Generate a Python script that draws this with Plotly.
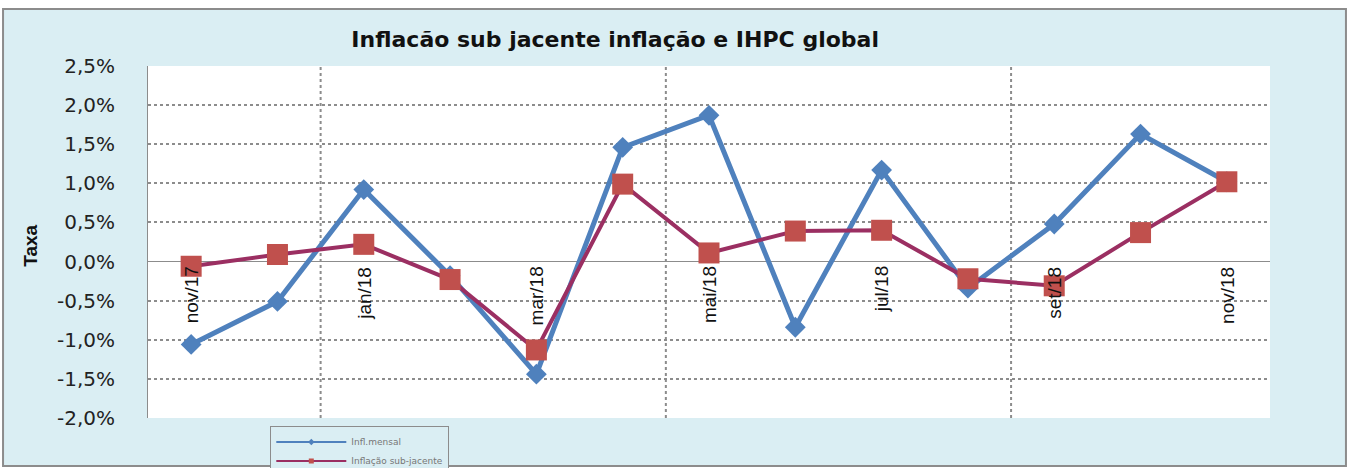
import plotly.graph_objects as go

months = ["nov/17", "dez/17", "jan/18", "fev/18", "mar/18", "abr/18", "mai/18",
          "jun/18", "jul/18", "ago/18", "set/18", "out/18", "nov/18"]
shown_labels = ["nov/17", "jan/18", "mar/18", "mai/18", "jul/18", "set/18", "nov/18"]
infl_mensal = [-1.06, -0.51, 0.92, -0.18, -1.44, 1.46, 1.87, -0.84, 1.17, -0.34, 0.48, 1.63, 1.02]
infl_sub = [-0.06, 0.09, 0.22, -0.23, -1.13, 0.99, 0.11, 0.39, 0.40, -0.22, -0.31, 0.37, 1.02]
y_ticks = [2.5, 2.0, 1.5, 1.0, 0.5, 0.0, -0.5, -1.0, -1.5, -2.0]
y_labels = ["2,5%", "2,0%", "1,5%", "1,0%", "0,5%", "0,0%", "-0,5%", "-1,0%", "-1,5%", "-2,0%"]
vgrid_pos = [1.5, 5.5, 9.5]

BLUE = "#4F81BD"
RED_M = "#C0504D"
RED_L = "#9B2F62"
BG = "#DAEEF3"

fig = go.Figure()
fig.add_trace(go.Scatter(x=months, y=infl_mensal, mode="lines+markers",
                         line=dict(color=BLUE, width=5),
                         marker=dict(symbol="diamond", size=16, color=BLUE),
                         showlegend=False))
fig.add_trace(go.Scatter(x=months, y=infl_sub, mode="lines+markers",
                         line=dict(color=RED_L, width=4),
                         marker=dict(symbol="square", size=21, color=RED_M),
                         showlegend=False))
# legend entries
fig.add_trace(go.Scatter(x=[None], y=[None], mode="lines+markers", name="Infl.mensal",
                         line=dict(color=BLUE, width=2), marker=dict(symbol="diamond", size=5, color=BLUE)))
fig.add_trace(go.Scatter(x=[None], y=[None], mode="lines+markers", name="Inflação sub-jacente",
                         line=dict(color=RED_L, width=2), marker=dict(symbol="square", size=5, color=RED_M)))

shapes = [dict(type="rect", xref="paper", yref="paper", x0=-0.1292, x1=1.0677, y0=-0.1364, y1=1.162,
               fillcolor=BG, line=dict(color="#8C8C8C", width=2), layer="below"),
          dict(type="rect", xref="paper", yref="paper", x0=0, x1=1, y0=0, y1=1,
               fillcolor="white", line=dict(width=0), layer="below")]
for v in vgrid_pos:
    shapes.append(dict(type="line", xref="x", yref="paper", x0=v, x1=v, y0=0, y1=1,
                       line=dict(color="#8C8C8C", width=2, dash="dot"), layer="below"))

annotations = []
for lab in shown_labels:
    annotations.append(dict(x=lab, y=0, xref="x", yref="y", text=lab, showarrow=False,
                            textangle=-90, xanchor="center", yanchor="top", yshift=-3,
                            font=dict(family="Liberation Sans", size=19, color="#111111")))
annotations.append(dict(x=-0.105, y=0.49, xref="paper", yref="paper", text="<b>Taxa</b>",
                        showarrow=False, textangle=-90, xanchor="center", yanchor="middle",
                        font=dict(family="Liberation Sans", size=19, color="#111111")))

fig.update_layout(
    width=1349, height=468,
    margin=dict(l=148, r=79, t=66, b=50, autoexpand=False),
    paper_bgcolor="white", plot_bgcolor="white",
    title=dict(text="<b>Inflacão sub jacente inflação e IHPC global</b>", x=0.456, xanchor="center",
               y=0.915, yanchor="middle",
               font=dict(family="DejaVu Sans", size=22, color="#111111")),
    xaxis=dict(type="category", range=[-0.5, 12.5], showticklabels=False, showgrid=False,
               zeroline=False, showline=False, fixedrange=True, automargin=False),
    yaxis=dict(range=[-2.0, 2.5], tickvals=y_ticks, ticktext=y_labels, showgrid=True,
               gridcolor="#8C8C8C", gridwidth=1.5, griddash="dot", zeroline=True,
               zerolinecolor="#8C8C8C", zerolinewidth=1, showline=True, linecolor="#8C8C8C",
               linewidth=1, ticks="", ticklabelstandoff=28, automargin=False,
               tickfont=dict(family="DejaVu Sans", size=20, color="#222222")),
    legend=dict(x=0.109, y=-0.024, xanchor="left", yanchor="top", bgcolor=BG,
                bordercolor="#8C8C8C", borderwidth=1,
                font=dict(family="DejaVu Sans", size=9, color="#777777"),
                tracegroupgap=0, itemwidth=70),
    shapes=shapes, annotations=annotations,
)
fig.write_html("out.html", config={"displayModeBar": False},
               post_script="document.body.style.margin='0';document.body.style.overflow='hidden';")
